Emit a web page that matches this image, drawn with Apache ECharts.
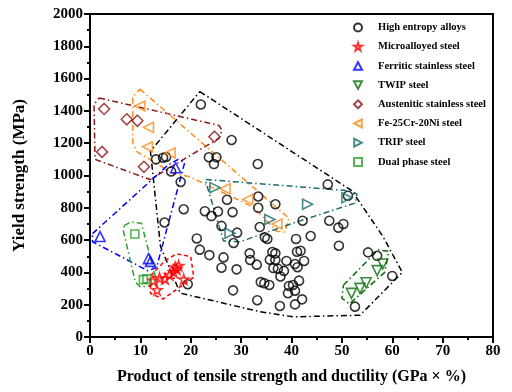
<!DOCTYPE html>
<html>
<head>
<meta charset="utf-8">
<script src="https://cdn.jsdelivr.net/npm/echarts@6/dist/echarts.min.js"></script>
<style>
  html, body { margin: 0; padding: 0; background: #fff; }
  #chart { width: 512px; height: 392px; }
</style>
</head>
<body>
<div id="chart"></div>
<script>
// points: [product (GPa %), yield strength (MPa)]
const highEntropy = [
  [22.0, 1440], [28.1, 1220], [13.1, 1100], [14.5, 1110], [15.1, 1115],
  [23.6, 1113], [25.1, 1113], [24.6, 1071], [33.3, 1071], [16.1, 1025],
  [18.0, 960], [27.2, 850], [33.4, 870], [33.4, 800], [36.8, 822],
  [18.6, 791], [22.8, 779], [24.1, 749], [25.4, 777], [28.3, 773],
  [14.8, 709], [26.1, 688], [29.2, 646], [28.5, 582], [33.7, 681],
  [34.7, 617], [35.2, 607], [21.2, 610], [21.8, 541], [23.7, 507],
  [26.5, 493], [26.1, 429], [29.1, 419], [31.7, 518], [31.8, 477],
  [33.1, 448], [36.2, 526], [36.8, 518], [35.7, 479], [36.8, 477],
  [36.4, 427], [37.3, 423], [37.8, 375], [33.9, 340], [34.6, 333],
  [35.6, 322], [28.4, 289], [33.2, 228], [37.7, 192], [19.4, 327],
  [47.2, 945], [42.2, 720], [47.5, 720], [49.3, 677], [50.3, 700],
  [40.9, 607], [43.8, 625], [49.4, 565], [41.1, 528], [41.8, 534],
  [39.0, 471], [42.5, 471], [40.7, 452], [41.2, 432], [38.5, 409],
  [41.5, 349], [39.5, 316], [40.3, 322], [39.3, 271], [40.7, 287],
  [40.7, 202], [42.1, 233], [55.2, 524], [57.0, 503], [60.0, 378],
  [52.6, 188], [51.2, 875]
];
const microalloyed = [
  [12.5, 350], [13.3, 291], [13.8, 365], [14.9, 360], [15.8, 385],
  [16.6, 402], [16.9, 432], [17.2, 420], [17.6, 441], [18.6, 357]
];
const ferritic = [[2.0, 622], [11.6, 485], [12.0, 468], [17.0, 1048]];
const twip = [[51.9, 270], [53.6, 301], [54.8, 336], [57.0, 411], [58.1, 452]];
const austenitic = [[2.8, 1412], [7.3, 1348], [9.4, 1339], [2.4, 1146], [10.7, 1054], [24.7, 1240]];
const feCrNi = [[9.9, 1430], [11.6, 1298], [11.4, 1178], [15.9, 1140], [26.8, 918], [31.3, 852], [37.1, 700]];
const trip = [[24.8, 925], [27.8, 642], [35.7, 728], [43.2, 822], [51.0, 862]];
const dualPhase = [[8.9, 638], [10.6, 355], [11.3, 360]];

// dash-dot outlines drawn round each group
const hullHighEntropy = [[21.8, 1520], [52.0, 905], [58.2, 620], [62.0, 400], [53.6, 135], [40.3, 125], [33.7, 157], [17.9, 272], [14.0, 560], [12.0, 1150], [21.8, 1520]];
const hullAustenitic = [[1.8, 1480], [25.6, 1310], [26.2, 1280], [25.6, 1230], [11.9, 975], [1.0, 1100], [0.8, 1440], [1.8, 1480]];
const hullFeCrNi = [[9.9, 1535], [39.5, 735], [38.7, 650], [37.0, 655], [32.4, 805], [19.8, 992], [16.5, 1013], [9.3, 1148], [8.5, 1200], [8.5, 1488], [9.9, 1535]];
const hullFerritic = [[0.5, 640], [15.5, 1065], [17.5, 1100], [18.8, 1080], [13.2, 430], [11.5, 410], [0.5, 590], [0.5, 640]];
const hullDualPhase = [[6.8, 690], [8.0, 712], [10.2, 705], [13.0, 370], [12.2, 318], [10.0, 310], [9.0, 340], [6.6, 660], [6.8, 690]];
const hullMicro = [[12.0, 380], [15.0, 475], [17.2, 515], [20.0, 498], [20.6, 370], [14.5, 235], [12.0, 270], [12.0, 380]];
const hullTwip = [[50.3, 320], [57.2, 540], [59.3, 530], [58.5, 400], [51.5, 205], [50.0, 240], [50.3, 320]];
const hullTrip = [[23.0, 975], [51.8, 905], [53.0, 885], [52.7, 830], [40.3, 705], [29.8, 590], [26.5, 595], [23.0, 960], [23.0, 975]];

const xTicks = [0, 80, 10];
const yTicks = [0, 2000, 200];

const fontFamily = "'Liberation Serif', 'Times New Roman', serif";
const starPath = "path://M50,2 L61,36 L97,36 L68,57 L79,92 L50,71 L21,92 L32,57 L3,36 L39,36 Z";
const triUp = "path://M50,5 L95,90 L5,90 Z";
const triDown = "path://M5,10 L95,10 L50,95 Z";
const triLeft = "path://M10,50 L95,5 L95,95 Z";
const triRight = "path://M5,5 L90,50 L5,95 Z";
const dashDot = [6, 3, 1.5, 3];

function pointSeries(name, data, symbol, color, size) {
  return {
    name,
    type: "scatter",
    data,
    symbol,
    symbolSize: size,
    itemStyle: { color: "transparent", borderColor: color, borderWidth: 1.6 },
    emphasis: { disabled: true },
    z: 3
  };
}

function hullSeries(data, color, dash) {
  return {
    type: "line",
    data,
    showSymbol: false,
    silent: true,
    lineStyle: { color, width: 1.5, type: dash || dashDot },
    z: 2
  };
}

const colors = {
  hea: "#000000",
  micro: "#ff0000",
  ferritic: "#0000ff",
  twip: "#0b6e0b",
  austenitic: "#8b1a1a",
  feCrNi: "#ff8c1a",
  trip: "#1b6b6b",
  dual: "#2ca02c"
};

const chart = echarts.init(document.getElementById("chart"));
chart.setOption({
  animation: false,
  grid: { left: 90, right: 19, top: 14, bottom: 55, show: true, borderColor: "#000", borderWidth: 2 },
  legend: {
    orient: "vertical",
    left: 353,
    top: 22,
    padding: 0,
    itemWidth: 8,
    itemHeight: 8,
    itemGap: 8.2,
    itemStyle: { borderWidth: 2 },
    textStyle: { fontFamily, fontWeight: "bold", fontSize: 10.5, color: "#000", padding: [0, 0, 0, 11] },
    data: [
      "High entropy alloys", "Microalloyed steel", "Ferritic stainless steel", "TWIP steel",
      "Austenitic stainless steel", "Fe-25Cr-20Ni steel", "TRIP steel", "Dual phase steel"
    ]
  },
  xAxis: {
    type: "value",
    min: xTicks[0],
    max: xTicks[1],
    interval: xTicks[2],
    name: "Product of tensile strength and ductility (GPa × %)",
    nameLocation: "middle",
    nameGap: 32,
    nameTextStyle: { fontFamily, fontWeight: "bold", fontSize: 16, color: "#000" },
    axisLine: { lineStyle: { color: "#000", width: 2 } },
    axisTick: { length: 6, lineStyle: { color: "#000", width: 2 } },
    minorTick: { show: true, splitNumber: 2, length: 3, lineStyle: { color: "#000", width: 2 } },
    axisLabel: { fontFamily, fontWeight: "bold", fontSize: 15, color: "#000", margin: 7 },
    splitLine: { show: false }
  },
  yAxis: {
    type: "value",
    min: yTicks[0],
    max: yTicks[1],
    interval: yTicks[2],
    name: "Yield strength (MPa)",
    nameLocation: "middle",
    nameGap: 62,
    nameTextStyle: { fontFamily, fontWeight: "bold", fontSize: 17, color: "#000" },
    axisLine: { lineStyle: { color: "#000", width: 2 } },
    axisTick: { length: 6, lineStyle: { color: "#000", width: 2 } },
    minorTick: { show: true, splitNumber: 2, length: 3, lineStyle: { color: "#000", width: 2 } },
    axisLabel: { fontFamily, fontWeight: "bold", fontSize: 15, color: "#000", margin: 7, formatter: (v) => String(v) },
    splitLine: { show: false }
  },
  series: [
    hullSeries(hullHighEntropy, colors.hea),
    hullSeries(hullAustenitic, colors.austenitic),
    hullSeries(hullFeCrNi, colors.feCrNi),
    hullSeries(hullFerritic, colors.ferritic),
    hullSeries(hullDualPhase, colors.dual),
    hullSeries(hullMicro, colors.micro, [4, 3]),
    hullSeries(hullTwip, colors.twip),
    hullSeries(hullTrip, colors.trip),
    pointSeries("High entropy alloys", highEntropy, "circle", colors.hea, 9),
    pointSeries("Microalloyed steel", microalloyed, starPath, colors.micro, 10),
    pointSeries("Ferritic stainless steel", ferritic, triUp, colors.ferritic, 10),
    pointSeries("TWIP steel", twip, triDown, colors.twip, 10),
    pointSeries("Austenitic stainless steel", austenitic, "diamond", colors.austenitic, 11),
    pointSeries("Fe-25Cr-20Ni steel", feCrNi, triLeft, colors.feCrNi, 10),
    pointSeries("TRIP steel", trip, triRight, colors.trip, 10),
    pointSeries("Dual phase steel", dualPhase, "rect", colors.dual, 8)
  ]
});
</script>
</body>
</html>
